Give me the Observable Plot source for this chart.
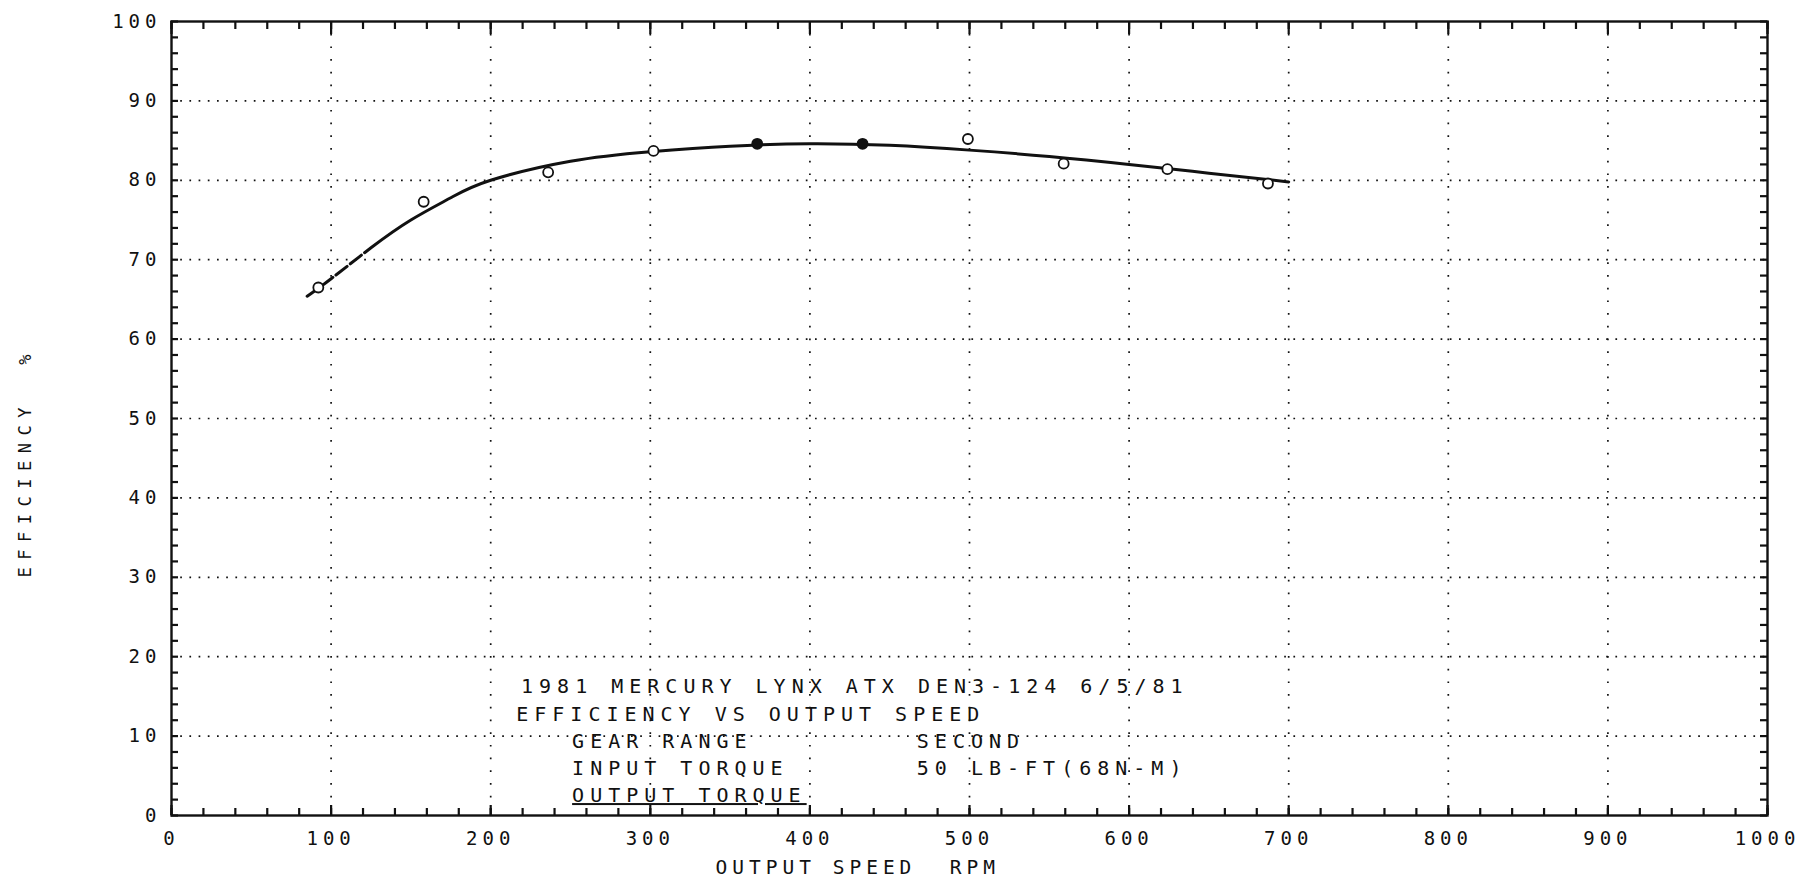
<!DOCTYPE html>
<html><head><meta charset="utf-8">
<script src="https://cdn.jsdelivr.net/npm/d3@7"></script>
<script src="https://cdn.jsdelivr.net/npm/@observablehq/plot@0.6"></script>
<style>
html,body{margin:0;padding:0;background:#fff;}
svg text{white-space:pre;letter-spacing:5px;}
g[font-size="20"] text{letter-spacing:6px;}
g[font-size="17"] text{letter-spacing:7.5px;}
</style></head><body><div id="chart"></div>
<script>
// measured points: output speed (rpm) vs efficiency (%)
const speedPoints = [92, 158, 236, 302, 367, 433, 499, 559, 624, 687];
const effPoints   = [66.5, 77.3, 81.0, 83.7, 84.6, 84.6, 85.2, 82.1, 81.4, 79.6];
const filledPoints = [false, false, false, false, true, true, false, false, false, false];
// fitted curve
const curveSpeed = [85, 100, 125, 150, 175, 200, 250, 300, 350, 400, 450, 500, 550, 600, 650, 700];
const curveEff   = [65.4, 67.6, 71.5, 75.0, 77.8, 80.0, 82.4, 83.6, 84.3, 84.6, 84.4, 83.8, 83.0, 82.0, 80.9, 79.8];
// axes
const xTicks = [0, 100, 200, 300, 400, 500, 600, 700, 800, 900, 1000];
const yTicks = [0, 10, 20, 30, 40, 50, 60, 70, 80, 90, 100];
const xMinor = d3.range(0, 1001, 20);
const yMinor = d3.range(0, 101, 2);
const xTitle = "OUTPUT SPEED  RPM";
const yTitle = "EFFICIENCY  %";
const noteLines = ["1981 MERCURY LYNX ATX DEN3-124 6/5/81", "EFFICIENCY VS OUTPUT SPEED", "GEAR RANGE", "INPUT TORQUE", "OUTPUT TORQUE", "SECOND", "50 LB-FT(68N-M)"];

const points = speedPoints.map((s, i) => ({speed: s, eff: effPoints[i], filled: filledPoints[i]}));
const curve = curveSpeed.map((s, i) => ({speed: s, eff: curveEff[i]}));
const notes = [
  {x: 219, y: 16.2, t: noteLines[0]},
  {x: 216, y: 12.7, t: noteLines[1]},
  {x: 251, y: 9.3, t: noteLines[2]},
  {x: 251, y: 5.9, t: noteLines[3]},
  {x: 251, y: 2.5, t: noteLines[4]},
  {x: 467, y: 9.3, t: noteLines[5]},
  {x: 467, y: 5.9, t: noteLines[6]}
];

const W = 1812, H = 885, ML = 171, MR = 45, MT = 21, MB = 70;
const plotW = W - ML - MR, plotH = H - MT - MB;
const xMax = 1000, yMax = 100;
// tick lengths in pixels converted to data units
const tx = px => px * xMax / plotW;
const ty = px => px * yMax / plotH;
const font = "DejaVu Sans Mono";
const ink = "#111";
const tickStyle = {stroke: ink, strokeWidth: 2.2};
const chart = Plot.plot({
  width: W, height: H,
  marginLeft: ML, marginRight: MR, marginTop: MT, marginBottom: MB,
  style: {fontFamily: font, background: "white", color: ink},
  x: {domain: [0, xMax], axis: null},
  y: {domain: [0, yMax], axis: null},
  marks: [
    Plot.ruleX(xTicks.slice(1, -1), {stroke: ink, strokeWidth: 1.7, strokeDasharray: "1.7,11"}),
    Plot.ruleY(yTicks.slice(1, -1), {stroke: ink, strokeWidth: 1.7, strokeDasharray: "1.7,7.5"}),
    // inward tick marks on all four sides
    Plot.ruleX(xMinor, {...tickStyle, y1: 0, y2: ty(7)}),
    Plot.ruleX(xTicks, {...tickStyle, y1: 0, y2: ty(10)}),
    Plot.ruleX(xMinor, {...tickStyle, y1: yMax, y2: yMax - ty(8)}),
    Plot.ruleX(xTicks, {...tickStyle, y1: yMax, y2: yMax - ty(13)}),
    Plot.ruleY(yMinor, {...tickStyle, x1: 0, x2: tx(7)}),
    Plot.ruleY(yMinor, {...tickStyle, x1: xMax, x2: xMax - tx(7)}),
    // tick labels
    Plot.text(xTicks, {x: d => d, text: d => String(d), frameAnchor: "bottom", dy: 29, fontSize: 19, fill: ink}),
    Plot.text(yTicks, {y: d => d, text: d => String(d), frameAnchor: "left", dx: -10, textAnchor: "end", fontSize: 19, fill: ink}),
    Plot.frame({stroke: ink, strokeWidth: 2.4}),
    Plot.line(curve, {x: "speed", y: "eff", curve: "natural", stroke: ink, strokeWidth: 3, strokeDasharray: "14,4,14,4,14,4,14,4,4000"}),
    Plot.dot(points, {x: "speed", y: "eff", r: 5, stroke: ink, strokeWidth: 1.8, fill: d => d.filled ? ink : "white"}),
    Plot.text(notes, {x: "x", y: "y", text: "t", textAnchor: "start", fontSize: 20, fill: ink}),
    Plot.text([xTitle], {x: [430], frameAnchor: "bottom", dy: 58, fontSize: 19.5, fill: ink}),
    Plot.text([yTitle], {y: [44.5], frameAnchor: "left", dx: -146, rotate: -90, textAnchor: "middle", fontSize: 17, fill: ink})
  ]
});
d3.select(chart).selectAll("text").filter(function () { return this.textContent === noteLines[4]; })
  .style("text-decoration", "underline");
document.getElementById("chart").appendChild(chart);
</script></body></html>
